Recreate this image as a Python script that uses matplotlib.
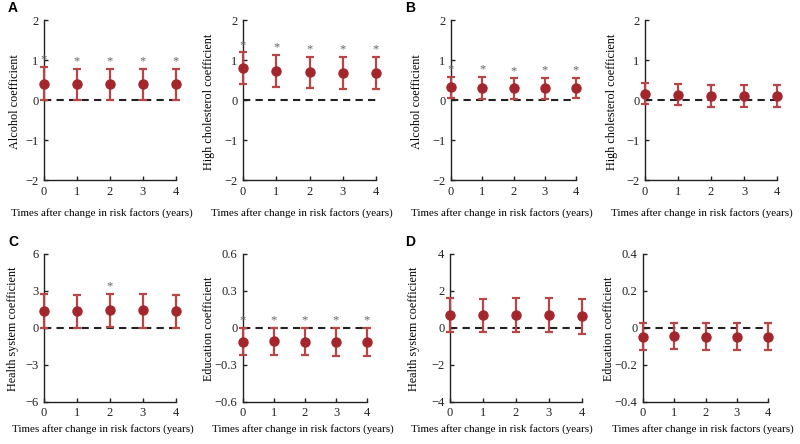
import numpy as np
import matplotlib
matplotlib.use("Agg")
import matplotlib.pyplot as plt

plt.rcParams['font.family'] = ['Liberation Serif', 'DejaVu Serif']

years = [0, 1, 2, 3, 4]

# A: alcohol / high cholesterol
a_alc_mean = [0.41, 0.40, 0.40, 0.40, 0.40]
a_alc_low = [0.00, 0.00, 0.00, 0.00, 0.00]
a_alc_high = [0.82, 0.78, 0.78, 0.78, 0.78]
a_alc_star = [1, 1, 1, 1, 1]

a_chol_mean = [0.79, 0.72, 0.69, 0.67, 0.67]
a_chol_low = [0.39, 0.33, 0.29, 0.27, 0.27]
a_chol_high = [1.19, 1.12, 1.08, 1.07, 1.07]
a_chol_star = [1, 1, 1, 1, 1]

# B: alcohol / high cholesterol
b_alc_mean = [0.32, 0.31, 0.29, 0.30, 0.31]
b_alc_low = [0.04, 0.03, 0.03, 0.03, 0.04]
b_alc_high = [0.58, 0.57, 0.54, 0.56, 0.56]
b_alc_star = [1, 1, 1, 1, 1]

b_chol_mean = [0.15, 0.12, 0.10, 0.10, 0.10]
b_chol_low = [-0.11, -0.13, -0.17, -0.18, -0.18]
b_chol_high = [0.43, 0.39, 0.37, 0.37, 0.37]
b_chol_star = [0, 0, 0, 0, 0]

# C: health system / education
c_hs_mean = [1.32, 1.32, 1.43, 1.43, 1.35]
c_hs_low = [0.0, 0.0, 0.02, 0.0, 0.0]
c_hs_high = [2.70, 2.64, 2.72, 2.72, 2.67]
c_hs_star = [0, 0, 1, 0, 0]

c_edu_mean = [-0.117, -0.11, -0.114, -0.12, -0.117]
c_edu_low = [-0.225, -0.22, -0.225, -0.228, -0.228]
c_edu_high = [-0.002, -0.002, -0.002, -0.002, -0.002]
c_edu_star = [1, 1, 1, 1, 1]

# D: health system / education
d_hs_mean = [0.68, 0.66, 0.68, 0.68, 0.62]
d_hs_low = [-0.26, -0.26, -0.26, -0.27, -0.33]
d_hs_high = [1.59, 1.56, 1.57, 1.57, 1.54]
d_hs_star = [0, 0, 0, 0, 0]

d_edu_mean = [-0.049, -0.047, -0.049, -0.050, -0.050]
d_edu_low = [-0.120, -0.117, -0.120, -0.122, -0.122]
d_edu_high = [0.023, 0.023, 0.023, 0.022, 0.022]
d_edu_star = [0, 0, 0, 0, 0]

marker_col = '#a3262d'
bar_col = '#bb4444'

W, H = 800, 444
fig = plt.figure(figsize=(8, 4.44), dpi=100)


def panel(px, labpos, mean, low, high, star, ylim, yticks, yticklabels, ylabel):
    l, r, t, b = px
    xl_x, xl_y, yl_x = labpos
    ax = fig.add_axes([l / W, 1 - b / H, (r - l) / W, (b - t) / H])
    mean = np.array(mean)
    err = [mean - np.array(low), np.array(high) - mean]
    ax.plot([0, 4], [0, 0], color='#222222', ls=(0, (3.5, 2.5)), lw=1.5, zorder=2)
    ax.errorbar(years, mean, yerr=err, fmt='none', ecolor=bar_col,
                elinewidth=1.6, capsize=3.2, capthick=1.6, zorder=3, clip_on=False)
    ax.plot(years, mean, 'o', color=marker_col, ms=6.5, zorder=4, clip_on=False)
    for x, h, s in zip(years, high, star):
        if s:
            ax.annotate('*', (x, h), xytext=(0, 1.0), textcoords='offset points',
                        ha='center', va='bottom', fontsize=9, color='#666666')
    ax.set_xlim(0, 4)
    ax.set_ylim(*ylim)
    ax.set_xticks(years)
    ax.set_yticks(yticks)
    ax.set_yticklabels(yticklabels)
    ax.spines['top'].set_visible(False)
    ax.spines['right'].set_visible(False)
    for s in ['left', 'bottom']:
        ax.spines[s].set_linewidth(1.0)
        ax.spines[s].set_color('#222222')
    ax.tick_params(direction='in', length=3, width=1.0, labelsize=9,
                   colors='#222222', pad=4)
    ax.set_ylabel(ylabel, fontsize=8.7)
    ax.set_xlabel('Times after change in risk factors (years)', fontsize=7.9)
    # label placement in pixels (xlabel top edge, ylabel right edge)
    ax.xaxis.set_label_coords((xl_x - l) / (r - l), (b - (xl_y - 3.5)) / (b - t))
    ax.yaxis.set_label_coords((yl_x + 7.5 - l) / (r - l), 0.49)
    return ax


t1, b1 = 20, 180
t2, b2 = 253.5, 401.5
lab2 = ['\u22122', '\u22121', '0', '1', '2']

panel((44, 176, t1, b1), (102, 212, 14), a_alc_mean, a_alc_low, a_alc_high, a_alc_star,
      (-2, 2), [-2, -1, 0, 1, 2], lab2, 'Alcohol coefficient')
panel((243, 376, t1, b1), (302, 212, 207), a_chol_mean, a_chol_low, a_chol_high, a_chol_star,
      (-2, 2), [-2, -1, 0, 1, 2], lab2, 'High cholesterol coefficient')
panel((451, 576, t1, b1), (502, 212, 415), b_alc_mean, b_alc_low, b_alc_high, b_alc_star,
      (-2, 2), [-2, -1, 0, 1, 2], lab2, 'Alcohol coefficient')
panel((645, 777, t1, b1), (702, 212, 610), b_chol_mean, b_chol_low, b_chol_high, b_chol_star,
      (-2, 2), [-2, -1, 0, 1, 2], lab2, 'High cholesterol coefficient')

panel((44, 176, t2, b2), (103, 428, 12), c_hs_mean, c_hs_low, c_hs_high, c_hs_star,
      (-6, 6), [-6, -3, 0, 3, 6], ['\u22126', '\u22123', '0', '3', '6'],
      'Health system coefficient')
panel((243, 367, t2, b2), (303, 428, 207), c_edu_mean, c_edu_low, c_edu_high, c_edu_star,
      (-0.6, 0.6), [-0.6, -0.3, 0, 0.3, 0.6], ['\u22120.6', '\u22120.3', '0', '0.3', '0.6'],
      'Education coefficient')
panel((450, 582, t2, b2), (502, 428, 412), d_hs_mean, d_hs_low, d_hs_high, d_hs_star,
      (-4, 4), [-4, -2, 0, 2, 4], ['\u22124', '\u22122', '0', '2', '4'],
      'Health system coefficient')
panel((643, 768, t2, b2), (703, 428, 608), d_edu_mean, d_edu_low, d_edu_high, d_edu_star,
      (-0.4, 0.4), [-0.4, -0.2, 0, 0.2, 0.4], ['\u22120.4', '\u22120.2', '0', '0.2', '0.4'],
      'Education coefficient')

for letter, x, y in [('A', 8, 8), ('B', 405, 8), ('C', 8, 242), ('D', 405, 242)]:
    fig.text(x / W, 1 - y / H, letter, fontsize=10, fontweight='bold',
             family='Liberation Sans', va='center', ha='left')

fig.savefig('out.png', dpi=100)
